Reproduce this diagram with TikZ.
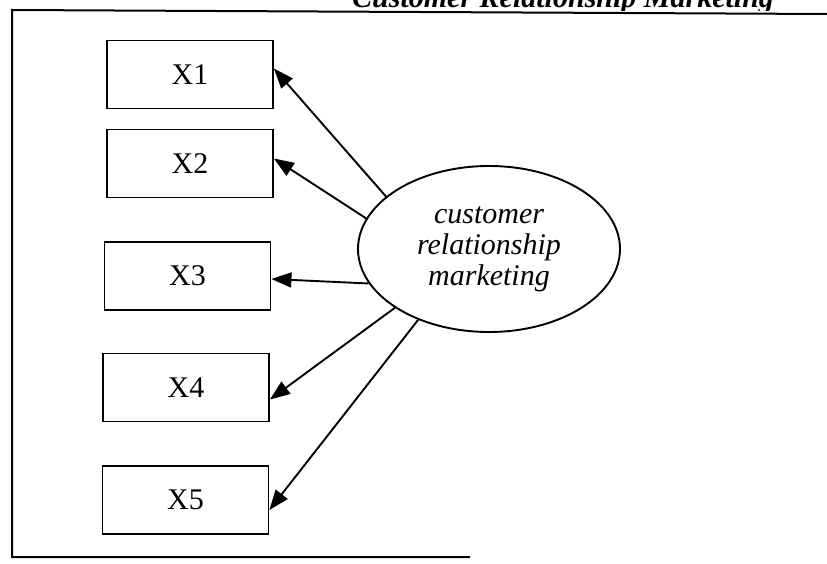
\documentclass[tikz,border=0pt]{standalone}
\usepackage{fontspec}
\setmainfont{Liberation Serif}
\usetikzlibrary{arrows.meta,shapes.geometric}
\begin{document}
\begin{tikzpicture}[x=1pt,y=-1pt,
  box/.style={draw,line width=1.8pt,minimum width=166pt,minimum height=68pt,inner sep=0pt,font=\fontsize{30}{32}\selectfont},
  lat/.style={draw,ellipse,line width=1.9pt,minimum width=262pt,minimum height=166pt,inner sep=0pt,align=center,font=\fontsize{30}{31}\selectfont\itshape},
  link/.style={line width=1.9pt,-{Triangle[length=20pt,width=15pt]}},
  frame/.style={line width=2pt}]
\useasboundingbox (0,0) rectangle (827,564);
% frame
\coordinate (f1) at (12,557);
\coordinate (f2) at (12,10);
\coordinate (f3) at (827,14);
\coordinate (f4) at (470,557);
\draw[frame] (f3) -- (f2) -- (f1) -- (f4);
% clipped title
\begin{scope}
\clip (0,0) rectangle (827,11);
\node[anchor=base west,inner sep=0pt,font=\fontsize{30}{33}\selectfont\bfseries\itshape] (title) at (352,8) {Customer Relationship Marketing};
\end{scope}
% boxes
\node[box] (x1) at (190,74.5) {X1};
\node[box] (x2) at (190,163.5) {X2};
\node[box] (x3) at (187.5,276) {X3};
\node[box] (x4) at (186,387.5) {X4};
\node[box] (x5) at (185.5,500) {X5};
% latent
\node[lat] (crm) at (489,249) {customer\\relationship\\marketing};
% links
\draw[link] (crm.153) -- ([yshift=6pt]x1.east);
\draw[link] (crm.166) -- ([yshift=5pt]x2.east);
\draw[link] (crm.196) -- ([yshift=-3pt]x3.east);
\draw[link] (crm.212) -- ([yshift=-12pt]x4.east);
\draw[link] (crm.225) -- ([yshift=-10pt]x5.east);
\end{tikzpicture}
\end{document}
